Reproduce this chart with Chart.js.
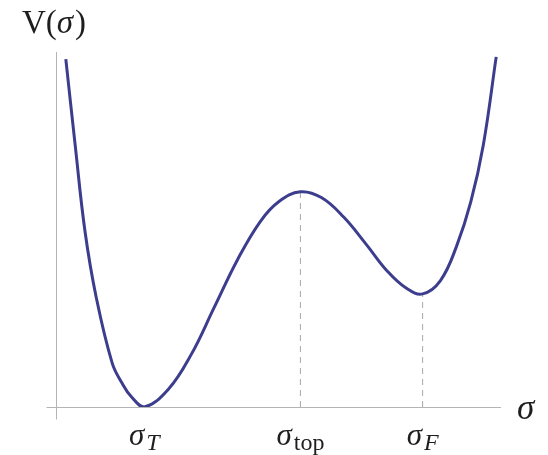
<!DOCTYPE html>
<html>
<head>
<meta charset="utf-8">
<script src="https://cdn.jsdelivr.net/npm/chart.js@4/dist/chart.umd.min.js"></script>
<style>
  html, body { margin: 0; padding: 0; background: #fff; }
  #wrap { width: 548px; height: 455px; }
</style>
</head>
<body>
<div id="wrap"><canvas id="potential-chart"></canvas></div>
<script>
// double-well potential V(sigma), sampled along the curve
const sigmaVals = [0.22, 0.43, 0.65, 0.90, 1.26, 1.48, 1.69, 1.98, 2.52, 3.03, 3.55, 4.07, 4.58, 5.00, 5.48, 5.95, 6.45, 6.96, 7.43, 7.85, 8.22, 8.62, 8.98, 9.30, 9.58, 9.87];
const potentialVals = [7.84, 5.90, 3.96, 2.48, 0.99, 0.54, 0.23, 0.00, 0.40, 1.18, 2.25, 3.32, 4.18, 4.63, 4.85, 4.72, 4.28, 3.66, 3.06, 2.68, 2.55, 2.85, 3.62, 4.62, 5.90, 7.89];

// named points on the sigma axis
const markerSigma = [1.98, 5.48, 8.22];
const markerSub = ['T', 'top', 'F'];
const droplineMarkers = [1, 2]; // which markers get a dashed drop line

const serif = '"Liberation Serif", "DejaVu Serif", serif';
const curveColor = '#3d3d8e';
const axisColor = '#b4b4b4';

const curvePoints = sigmaVals.map((s, i) => ({ x: s, y: potentialVals[i] }));

const dropLines = droplineMarkers.map(m => {
  const s = markerSigma[m];
  const v = potentialVals[sigmaVals.indexOf(s)];
  return {
    data: [{ x: s, y: 0 }, { x: s, y: v }],
    borderColor: '#a8a8a8',
    borderWidth: 1,
    borderDash: [6, 5],
    pointRadius: 0,
    order: 1
  };
});

// draw a run of text pieces (mixed italic / subscript) centred or left aligned
function drawRuns(ctx, x, y, runs, align) {
  let total = 0;
  runs.forEach(r => { ctx.font = r.font; total += ctx.measureText(r.text).width + (r.gap || 0); });
  let cx = align === 'center' ? x - total / 2 : x;
  runs.forEach(r => {
    ctx.font = r.font;
    ctx.fillText(r.text, cx, y + (r.dy || 0));
    cx += ctx.measureText(r.text).width + (r.gap || 0);
  });
}

const axesPlugin = {
  id: 'sigmaAxes',
  beforeDatasetsDraw(chart) {
    const { ctx } = chart;
    const xs = chart.scales.x, ys = chart.scales.y;
    const x0 = Math.round(xs.getPixelForValue(0)) + 0.5;
    const y0 = Math.round(ys.getPixelForValue(0)) + 0.5;
    ctx.save();
    ctx.strokeStyle = axisColor;
    ctx.lineWidth = 1;
    ctx.beginPath();
    ctx.moveTo(x0 - 10, y0);
    ctx.lineTo(xs.right - 1, y0);
    ctx.moveTo(x0, ys.top);
    ctx.lineTo(x0, y0 + 12);
    ctx.stroke();
    ctx.restore();
  },
  afterDraw(chart) {
    const { ctx } = chart;
    const xs = chart.scales.x, ys = chart.scales.y;
    const y0 = ys.getPixelForValue(0);
    ctx.save();
    ctx.fillStyle = '#1e1e1e';
    ctx.textBaseline = 'alphabetic';

    // marker labels under the axis
    markerSigma.forEach((s, i) => {
      const sub = markerSub[i];
      const subFont = (sub.length === 1 ? 'italic ' : '') + '24px ' + serif;
      drawRuns(ctx, xs.getPixelForValue(s), y0 + 38, [
        { text: 'σ', font: 'italic 31px ' + serif, gap: 2 },
        { text: sub, font: subFont, dy: 5 }
      ], 'center');
    });

    // axis names
    drawRuns(ctx, xs.right + 15, y0 + 12, [
      { text: 'σ', font: 'italic 35px ' + serif }
    ], 'left');
    drawRuns(ctx, 22, 33, [
      { text: 'V(', font: '33px ' + serif },
      { text: 'σ', font: 'italic 33px ' + serif, gap: 2 },
      { text: ')', font: '33px ' + serif }
    ], 'left');
    ctx.restore();
  }
};

new Chart(document.getElementById('potential-chart'), {
  type: 'line',
  data: {
    datasets: [
      {
        data: curvePoints,
        borderColor: curveColor,
        borderWidth: 3,
        pointRadius: 0,
        tension: 0.4,
        order: 0
      },
      ...dropLines
    ]
  },
  options: {
    responsive: true,
    maintainAspectRatio: false,
    animation: false,
    layout: { padding: { left: 56, right: 46, top: 52, bottom: 48 } },
    plugins: { legend: { display: false }, tooltip: { enabled: false } },
    scales: {
      x: { type: 'linear', min: 0, max: 10, display: false },
      y: { type: 'linear', min: 0, max: 8, display: false }
    }
  },
  plugins: [axesPlugin]
});
</script>
</body>
</html>
